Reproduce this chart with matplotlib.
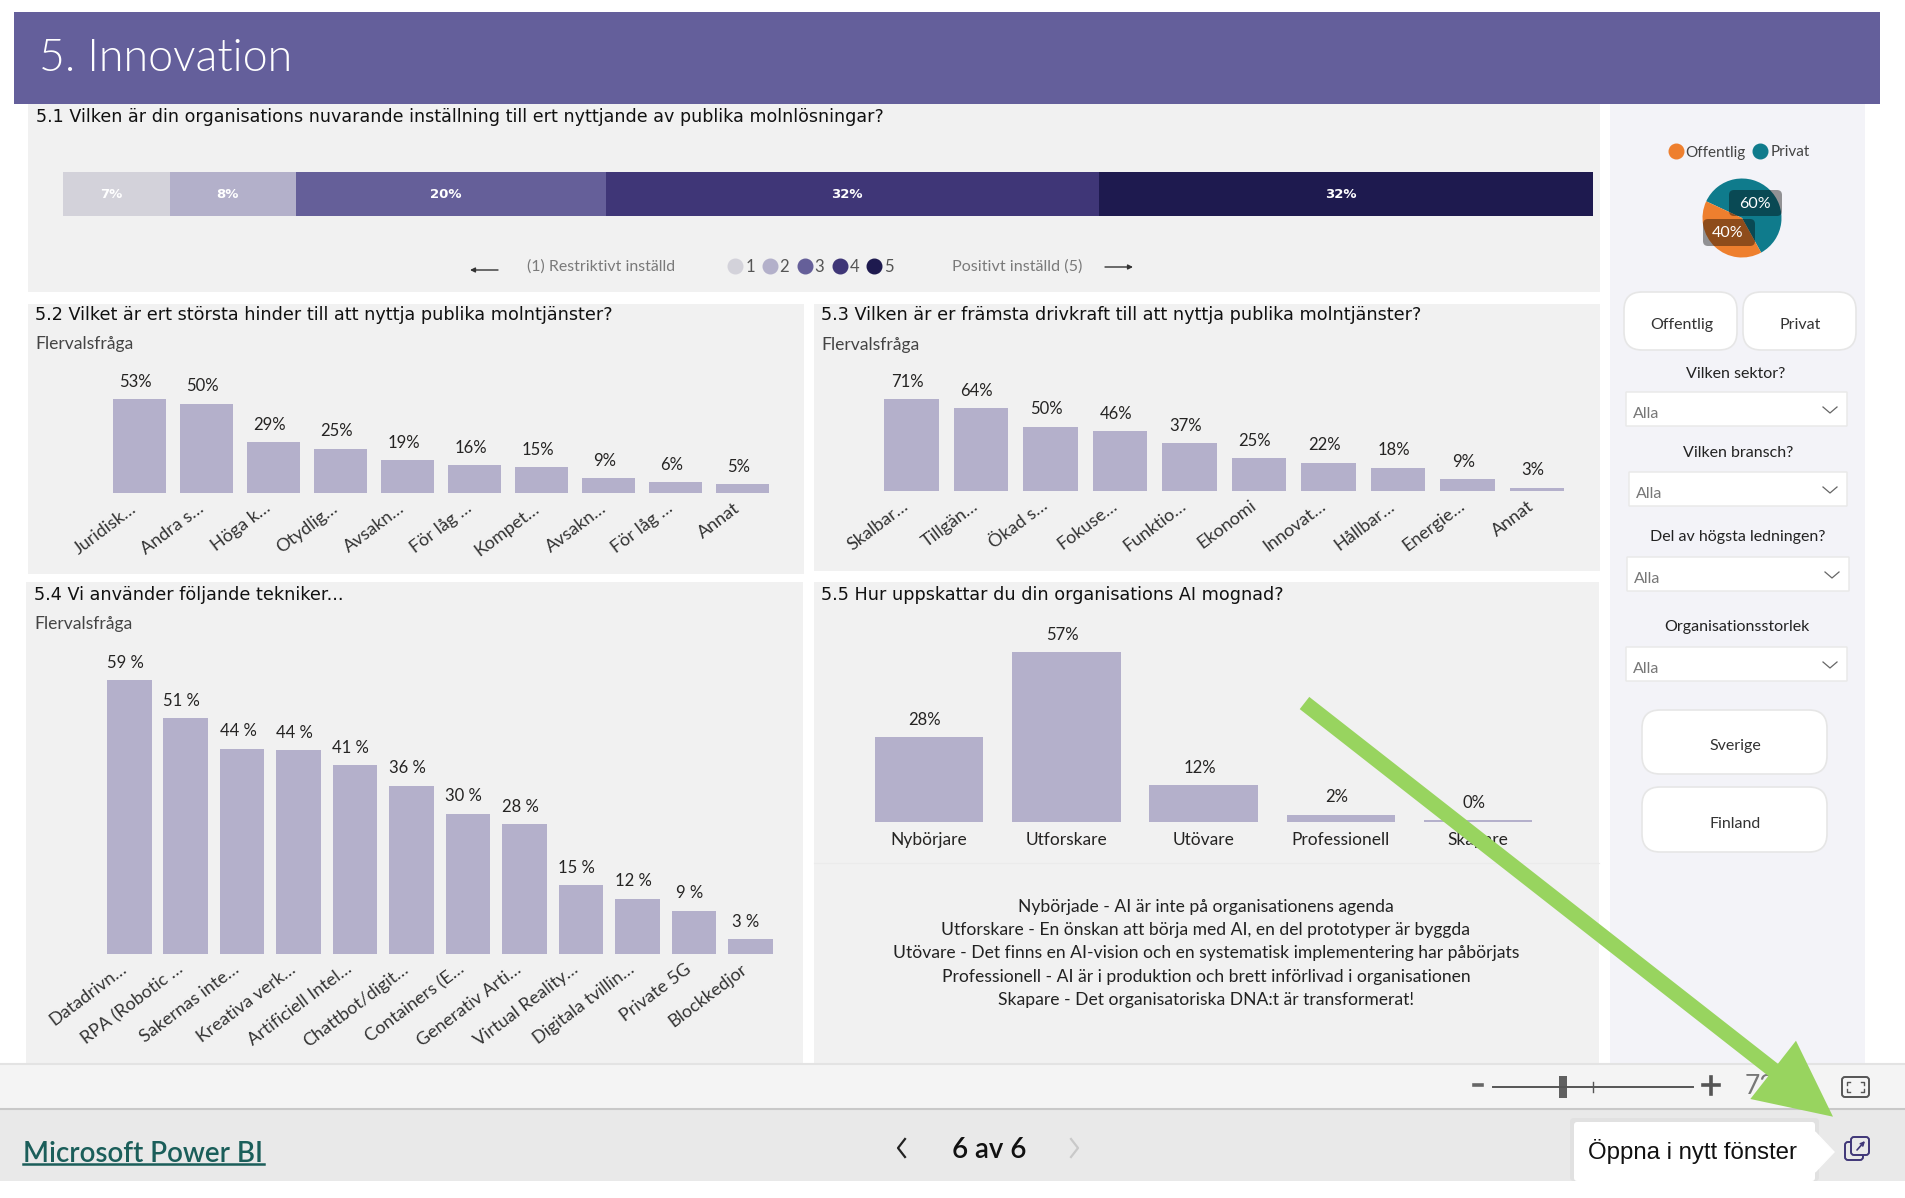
import pandas as pd
import numpy as np
import matplotlib.pyplot as plt
from matplotlib.patches import FancyBboxPatch

# 1. Data
attitude_levels = ['1', '2', '3', '4', '5']
attitude_shares = [7.0, 8.2, 20.3, 32.2, 32.3]
attitude_labels = ['7%', '8%', '20%', '32%', '32%']

barrier_names = ['Juridisk…', 'Andra s…', 'Höga k…', 'Otydlig…', 'Avsakn…', 'För låg …', 'Kompet…', 'Avsakn…', 'För låg …', 'Annat']
barrier_values = [53, 50.4, 28.7, 25.1, 18.6, 15.9, 14.8, 8.6, 6.3, 5.2]

driver_names = ['Skalbar…', 'Tillgän…', 'Ökad s…', 'Fokuse…', 'Funktio…', 'Ekonomi', 'Innovat…', 'Hållbar…', 'Energie…', 'Annat']
driver_values = [71, 64, 49.6, 46.3, 37, 25.4, 21.8, 18, 9, 2.6]

tech_names = ['Datadrivn…', 'RPA (Robotic …', 'Sakernas inte…', 'Kreativa verk…', 'Artificiell Intel…', 'Chattbot/digit…',
              'Containers (E…', 'Generativ Arti…', 'Virtual Reality…', 'Digitala tvillin…', 'Private 5G', 'Blockkedjor']
tech_values = [59, 50.7, 44.2, 43.9, 40.7, 36.2, 30.2, 28, 14.8, 11.9, 9.3, 3.2]

maturity_names = ['Nybörjare', 'Utforskare', 'Utövare', 'Professionell', 'Skapare']
maturity_values = [28.4, 57, 12.4, 2.4, 0.49]

sector_names = ['Privat', 'Offentlig']
sector_values = [60, 40]

maturity_text = ['Nybörjade - AI är inte på organisationens agenda',
                 'Utforskare - En önskan att börja med AI, en del prototyper är byggda',
                 'Utövare - Det finns en AI-vision och en systematisk implementering har påbörjats',
                 'Professionell - AI är i produktion och brett införlivad i organisationen',
                 'Skapare - Det organisatoriska DNA:t är transformerat!']

# 2. Colours and fonts
level_colors = ['#D3D2DA', '#B3B0CA', '#655F99', '#3F3677', '#1E1A4F']
bar_color = '#B4B0CB'
panel_color = '#F1F1F1'
W, H = 1906, 1198

plt.rcParams['font.family'] = 'Lato'
plt.rcParams['font.size'] = 12


def px_axes(x0, y0, x1, y1):
    return plt.axes([x0 / W, 1 - y1 / H, (x1 - x0) / W, (y1 - y0) / H])


def box(x0, y0, x1, y1, color, edge='none', rounding=0, fill=True, lw=1):
    plt.gca().add_patch(FancyBboxPatch((x0, y0), x1 - x0, y1 - y0, boxstyle=f'round,pad=0,rounding_size={rounding}',
                                       facecolor=color, edgecolor=edge, fill=fill, linewidth=lw))


def columns(names, values, first, pitch, baseline, scale, suffix='%', rot=37):
    left = first - pitch / 2
    right = first + pitch * (len(values) - 0.5)
    top = baseline - max(values) * scale
    ax = px_axes(left, top, right, baseline)
    pd.Series(values, index=names).plot(kind='bar', ax=ax, color=bar_color, width=0.79)
    plt.xlim(-0.5, len(values) - 0.5)
    plt.ylim(0, max(values))
    for i, v in enumerate(values):
        plt.annotate(f'{v:.0f}{suffix}', (i, v), xytext=(-3, 12.5), textcoords='offset points', ha='center', va='center', color='#252423', fontsize=12)
    if rot:
        plt.xticks(rotation=rot, ha='right', va='bottom', rotation_mode='anchor')
        ax.tick_params(axis='x', length=0, pad=14, labelsize=13, labelcolor='#333333')
    else:
        plt.xticks(rotation=0)
        ax.tick_params(axis='x', length=0, pad=7.5, labelsize=12.5, labelcolor='#252423')
    plt.yticks([])
    plt.xlabel('')
    ax.patch.set_visible(False)
    for side in ax.spines.values():
        side.set_visible(False)


fig = plt.figure(figsize=(W / 100, H / 100), dpi=100, facecolor='white')

# 3. Page background
px_axes(0, 0, W, H)
plt.xlim(0, W)
plt.ylim(H, 0)
plt.axis('off')

box(28, 104, 1600, 292, panel_color)
box(28, 304, 804, 574, panel_color)
box(814, 304, 1600, 571, panel_color)
box(26, 582, 803, 1063, panel_color)
box(814, 582, 1599, 1063, panel_color)
plt.plot([814, 1599], [863, 863], color='#EBEBEB', lw=0.8)
box(1610, 104, 1865, 1063, '#F3F3F8')
box(14, 12, 1880, 104, '#645F9B')
plt.text(39.5, 70.7, '5. Innovation', color='white', fontsize=32.2, fontweight=300, va='baseline')

# titles
title_font = dict(family='DejaVu Sans', fontsize=12.7, color='#111111', va='center')
plt.text(36, 117, '5.1 Vilken är din organisations nuvarande inställning till ert nyttjande av publika molnlösningar?', family='DejaVu Sans',
         fontsize=12.65, color='#111111', va='center')
plt.text(35, 315, '5.2 Vilket är ert största hinder till att nyttja publika molntjänster?', **title_font)
plt.text(821, 315, '5.3 Vilken är er främsta drivkraft till att nyttja publika molntjänster?', **title_font)
plt.text(34, 595, '5.4 Vi använder följande tekniker...', **title_font)
plt.text(821, 595, '5.5 Hur uppskattar du din organisations AI mognad?', **title_font)
for x, y in [(35, 344), (821, 345), (34, 624)]:
    plt.text(x, y, 'Flervalsfråga', color='#444444', fontsize=12.6, va='center')

# legend under 5.1
plt.annotate('', (470, 270), (498, 270), arrowprops=dict(arrowstyle='-|>', color='#333333', lw=1, mutation_scale=7, shrinkA=0, shrinkB=0))
plt.annotate('', (1133, 267), (1105, 267), arrowprops=dict(arrowstyle='-|>', color='#333333', lw=1, mutation_scale=7, shrinkA=0, shrinkB=0))
plt.text(527, 267, '(1) Restriktivt inställd', color='#7A7A7A', fontsize=11.4, va='center')
plt.text(952, 267, 'Positivt inställd (5)', color='#7A7A7A', fontsize=11.6, va='center')
for level, color, x in zip(attitude_levels, level_colors, [735.5, 770, 805, 840, 874]):
    plt.plot(x, 266, 'o', color=color, ms=10.5)
    plt.text(x + 14.5, 267, level, color='#555555', fontsize=12, ha='center', va='center')

# side panel
plt.plot(1676, 151, 'o', color='#EE7F2E', ms=10.5)
plt.plot(1760, 151, 'o', color='#0F7B8C', ms=10.5)
plt.text(1685, 152.5, 'Offentlig', color='#444444', fontsize=11, va='center')
plt.text(1771, 152.5, 'Privat', color='#444444', fontsize=11, va='center')

for x0, y0, x1, y1, name in [(1624, 292, 1737, 350, 'Offentlig'), (1743, 292, 1856, 350, 'Privat'),
                             (1642, 710, 1827, 774, 'Sverige'), (1642, 787, 1827, 852, 'Finland')]:
    box(x0, y0, x1, y1, 'white', edge='#E6E6E6', rounding=18, lw=1.2)
    plt.text((x0 + x1) / 2 + 1, (y0 + y1) / 2 + 4, name, color='#333333', fontsize=11.5, ha='center', va='center')

for x, y, name in [(1736, 373.5, 'Vilken sektor?'), (1738, 453, 'Vilken bransch?'),
                   (1738, 537, 'Del av högsta ledningen?'), (1737, 627.5, 'Organisationsstorlek')]:
    plt.text(x, y, name, color='#222222', fontsize=11.5, ha='center', va='center')

for x0, y0, x1 in [(1626, 392, 1847), (1629, 472, 1847), (1627, 557, 1849), (1626, 647, 1847)]:
    box(x0, y0, x1, y0 + 34, 'white', edge='#E8E8E8')
    plt.text(x0 + 7, y0 + 22, 'Alla', color='#777777', fontsize=11.5, va='center')
    plt.plot([x1 - 24, x1 - 17, x1 - 10], [y0 + 15, y0 + 21, y0 + 15], color='#666666', lw=0.9)

# bottom bars
box(0, 1063, W, 1108, '#F4F4F4')
plt.plot([0, W], [1064, 1064], color='#E3E3E3', lw=1.5)
box(0, 1108, W, 1181, '#E9E9E9')
plt.plot([0, W], [1109, 1109], color='#C8C8C8', lw=1.5)

plt.text(23, 1154, 'Microsoft Power BI', color='#1B5E5A', fontsize=20, fontweight='semibold', va='center')
plt.plot([23, 264], [1164, 1164], color='#1B5E5A', lw=1.8)
plt.plot([905, 898, 905], [1139, 1148, 1157], color='#222222', lw=1.6)
plt.plot([1071, 1078, 1071], [1139, 1148, 1157], color='#C9C9C9', lw=1.6)
plt.text(989, 1150, '6 av 6', color='#111111', fontsize=20, fontweight='semibold', ha='center', va='center')

# zoom slider
plt.plot([1493, 1693], [1087, 1087], color='#555555', lw=1.4)
plt.plot([1593, 1593], [1082, 1092], color='#555555', lw=1)
box(1559, 1076, 1567, 1098, '#606060')
plt.plot([1474, 1482], [1085, 1085], color='#666666', lw=2.6)
plt.plot([1703, 1719], [1085, 1085], color='#555555', lw=2.6)
plt.plot([1711, 1711], [1077, 1094], color='#555555', lw=2.6)
plt.text(1745, 1086, '72%', color='#777777', fontsize=19, va='center')
box(1842, 1077, 1869, 1097, '#F4F4F4', edge='#555555', rounding=3, lw=1.4)
for cx, cy, sx, sy in [(1847, 1082, 1, 1), (1864, 1082, -1, 1), (1847, 1092, 1, -1), (1864, 1092, -1, -1)]:
    plt.plot([cx + 3 * sx, cx, cx], [cy, cy, cy + 3 * sy], color='#555555', lw=1)

# tooltip and icon
box(1570, 1118, 1819, 1181, '#E1E1E1', rounding=4)
box(1574, 1122, 1815, 1181, 'white', rounding=3)
plt.fill([1815, 1834, 1815], [1132, 1152, 1172], color='white')
plt.text(1588, 1152, 'Öppna i nytt fönster', family='Liberation Sans', color='#111111', fontsize=17.3, va='center')
box(1845, 1142, 1863, 1160, '#E9E9E9', edge='#3F3677', rounding=3, lw=1.4)
box(1851, 1137, 1869, 1155, '#E9E9E9', edge='#3F3677', rounding=3, lw=1.4)
plt.annotate('', (1865, 1141), (1857, 1150), arrowprops=dict(arrowstyle='->', color='#3F3677', lw=1.2, mutation_scale=6, shrinkA=0, shrinkB=0))

# 4. Charts
ax = px_axes(63, 172, 1593, 216)
attitude = pd.DataFrame([attitude_shares], columns=attitude_levels)
attitude.plot(kind='barh', stacked=True, ax=ax, color=level_colors, width=1, legend=False)
plt.xlim(0, sum(attitude_shares))
plt.ylim(-0.5, 0.5)
plt.axis('off')
centers = np.cumsum(attitude_shares) - np.array(attitude_shares) / 2
for center, label in zip(centers, attitude_labels):
    plt.annotate(label, (center, 0), xytext=(-4, 0), textcoords='offset points', family='DejaVu Sans', color='white', fontsize=9.5,
                 fontweight='bold', ha='center', va='center')

columns(barrier_names, barrier_values, 139.5, 67.05, 493.3, 1.78)
columns(driver_names, driver_values, 911.5, 69.5, 491, 1.296)
columns(tech_names, tech_values, 129.3, 56.45, 954, 4.645, suffix=' %')
columns(maturity_names, maturity_values, 929, 137.3, 821.7, 2.97, rot=0)

# 5. Sector pie
px_axes(1702.5, 178.5, 1781.5, 257.5)
plt.pie(sector_values, colors=['#0F7B8C', '#EE7F2E'], startangle=-61)
plt.xlim(-1, 1)
plt.ylim(-1, 1)

# 6. Overlay
px_axes(0, 0, W, H)
plt.xlim(0, W)
plt.ylim(H, 0)
plt.axis('off')
box(1729, 190, 1782, 216, '#000000', rounding=5)
plt.gca().patches[-1].set_alpha(0.4)
box(1703, 219, 1755, 246, '#000000', rounding=5)
plt.gca().patches[-1].set_alpha(0.4)
plt.text(1755, 203.5, f'{sector_values[0]}%', color='white', fontsize=11.5, ha='center', va='center')
plt.text(1728, 233, f'{sector_values[1]}%', color='white', fontsize=11.5, ha='center', va='center')

for i, line in enumerate(maturity_text):
    plt.text(1206, 907 + i * 23.2, line, color='#222222', fontsize=12.65, ha='center', va='center')

plt.arrow(1304.5, 703, 1833 - 1304.5, 1116.7 - 703, width=15.5, head_width=74, head_length=76, length_includes_head=True,
          color='#98D45F', lw=0, zorder=10)

plt.savefig('out.png', dpi=100)
